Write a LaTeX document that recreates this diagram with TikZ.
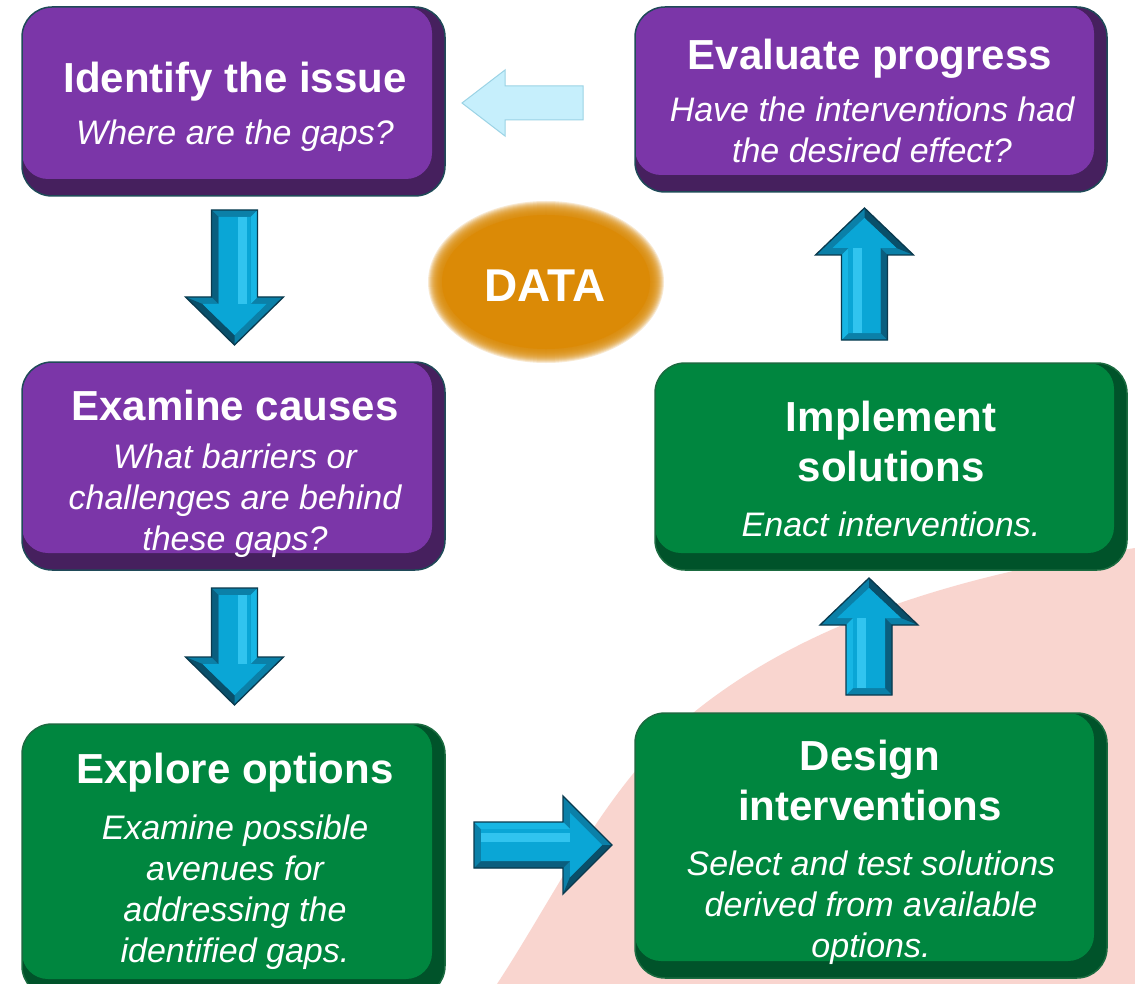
\documentclass[tikz,border=0pt]{standalone}
\usepackage{fontspec}
\setmainfont{Liberation Sans}
\usetikzlibrary{shapes.geometric}
\definecolor{purL}{HTML}{7B36A8}
\definecolor{purD}{HTML}{46205E}
\definecolor{purE}{HTML}{1F4A58}
\definecolor{grnL}{HTML}{00863F}
\definecolor{grnD}{HTML}{00532A}
\definecolor{grnE}{HTML}{1B6B40}
\definecolor{pinkbg}{HTML}{F9D5CF}
\definecolor{dataor}{HTML}{DB8A06}
\definecolor{arrMid}{HTML}{0B80A8}
\definecolor{arrDark}{HTML}{0A5E7E}
\definecolor{arrDeep}{HTML}{094F6A}
\definecolor{arrLite}{HTML}{17B6E4}
\definecolor{arrFace}{HTML}{0AA6D6}
\definecolor{arrGlow}{HTML}{38CAF4}
\definecolor{arrEdge}{HTML}{0A3A4E}
\definecolor{lbfill}{HTML}{C6EFFC}
\definecolor{lbedge}{HTML}{9BD3E5}
\newcommand\barrow[5]{%
 \begin{scope}[shift={(#1,#2)}, rotate=#3]
  \fill[arrMid] (0,-23) -- ({#4-#5},-23) -- ({#4-#5},-49) -- (#4,0) -- ({#4-#5},49) -- ({#4-#5},23) -- (0,23) -- cycle;
  \fill[arrLite] (0,-23) -- ({#4-#5},-23) -- ({#4-#5+7},-16) -- (7,-16) -- cycle;
  \fill[arrDark] (0,23) -- ({#4-#5},23) -- ({#4-#5+7},16) -- (7,16) -- cycle;
  \fill[arrMid] ({#4-#5},-49) -- (#4,0) -- ({#4-10},0) -- ({#4-#5+7},-32) -- cycle;
  \fill[arrDeep] ({#4-#5},49) -- (#4,0) -- ({#4-10},0) -- ({#4-#5+7},32) -- cycle;
  \fill[arrFace] (7,-16) -- ({#4-#5+7},-16) -- ({#4-#5+7},-32) -- ({#4-10},0) -- ({#4-#5+7},32) -- ({#4-#5+7},16) -- (7,16) -- cycle;
  \fill[arrGlow, opacity=0.85] (7,-12) rectangle ({#4-#5+7},-3);
  \draw[arrEdge, line width=1.3pt, line join=miter] (0,-23) -- ({#4-#5},-23) -- ({#4-#5},-49) -- (#4,0) -- ({#4-#5},49) -- ({#4-#5},23) -- (0,23) -- cycle;
 \end{scope}}
\tikzset{
 purplebox/.style={fill=purD, draw=purE, line width=1.5pt, rounded corners=30pt, inner sep=0pt,
   path picture={\fill[purL, rounded corners=26pt] ([shift={(0pt,0pt)}]path picture bounding box.north west) rectangle ([shift={(-13pt,17pt)}]path picture bounding box.south east);}},
 greenbox/.style={fill=grnD, draw=grnE, line width=1.5pt, rounded corners=30pt, inner sep=0pt,
   path picture={\fill[grnL, rounded corners=26pt] ([shift={(0pt,0pt)}]path picture bounding box.north west) rectangle ([shift={(-13pt,17pt)}]path picture bounding box.south east);}},
 titletext/.style={font=\fontsize{42}{50}\selectfont\bfseries, text=white, align=center, text height=31pt, text depth=9pt, inner sep=0pt},
 subtext/.style={font=\fontsize{34}{41}\selectfont\itshape, text=white, align=center, text height=25pt, text depth=7pt, inner sep=0pt},
}
\begin{document}
\begin{tikzpicture}[x=1pt,y=-1pt]
\useasboundingbox (0,0) rectangle (1135,984);
\clip (0,0) rectangle (1135,984);
\fill[white] (0,0) rectangle (1135,984);
% pink background
\fill[pinkbg] (497,984) .. controls (558,891) and (607,783) .. (693,713) .. controls (815,614) and (980,572) .. (1135,548) -- (1135,984) -- cycle;
% boxes
\node[purplebox, minimum width=423pt, minimum height=189pt] (b1) at (233.5,101.5) {};
\node[purplebox, minimum width=472pt, minimum height=185pt] (b2) at (871,99.5) {};
\node[purplebox, minimum width=423pt, minimum height=208pt] (b3) at (233.5,466) {};
\node[greenbox, minimum width=472pt, minimum height=207pt] (b4) at (891,466.5) {};
\node[greenbox, minimum width=423pt, minimum height=272pt] (b5) at (233.5,860) {};
\node[greenbox, minimum width=472pt, minimum height=265pt] (b6) at (871,845.5) {};
% texts (multi-line nodes: centre = last baseline - 9 / - 11)
\node[titletext] (t1) at (235,82) {Identify the issue};
\node[subtext] (s1) at (235,136) {Where are the gaps?};
\node[titletext] (t2) at (870,59) {Evaluate progress};
\node[subtext] (s2) at (872,154) {Have the interventions had\\the desired effect?};
\node[titletext] (t3) at (235,409) {Examine causes};
\node[subtext] (s3) at (235,541) {What barriers or\\challenges are behind\\these gaps?};
\node[titletext] (t4) at (891,470) {Implement\\solutions};
\node[subtext] (s4) at (891,527) {Enact interventions.};
\node[titletext] (t5) at (235,772) {Explore options};
\node[subtext] (s5) at (235,953) {Examine possible\\avenues for\\addressing the\\identified gaps.};
\node[titletext] (t6) at (870,809) {Design\\interventions};
\node[subtext] (s6) at (871,948) {Select and test solutions\\derived from available\\options.};
% light blue arrow (feedback)
\fill[lbfill, draw=lbedge, line width=1pt] (583,86) -- (505,86) -- (505,70) -- (462,103) -- (505,136) -- (505,120) -- (583,120) -- cycle;
% block arrows
\barrow{234.5}{210}{-90}{135}{48}
\barrow{234.5}{588}{-90}{117}{48}
\barrow{474}{845}{0}{138}{49}
\barrow{864.5}{340}{90}{132}{47}
\barrow{869}{695}{90}{117}{47}
% DATA
\foreach \k in {0,...,14}{
  \fill[dataor, opacity=0.18] (546,282) ellipse [x radius={118-\k}, y radius={81-\k}];
}
\node[ellipse, fill=dataor, minimum width=208pt, minimum height=134pt, inner sep=0pt] (data) at (546,282) {};
\node[font=\fontsize{46}{50}\selectfont\bfseries, text=white, inner sep=0pt] (datat) at (545,286) {DATA};
\end{tikzpicture}
\end{document}
